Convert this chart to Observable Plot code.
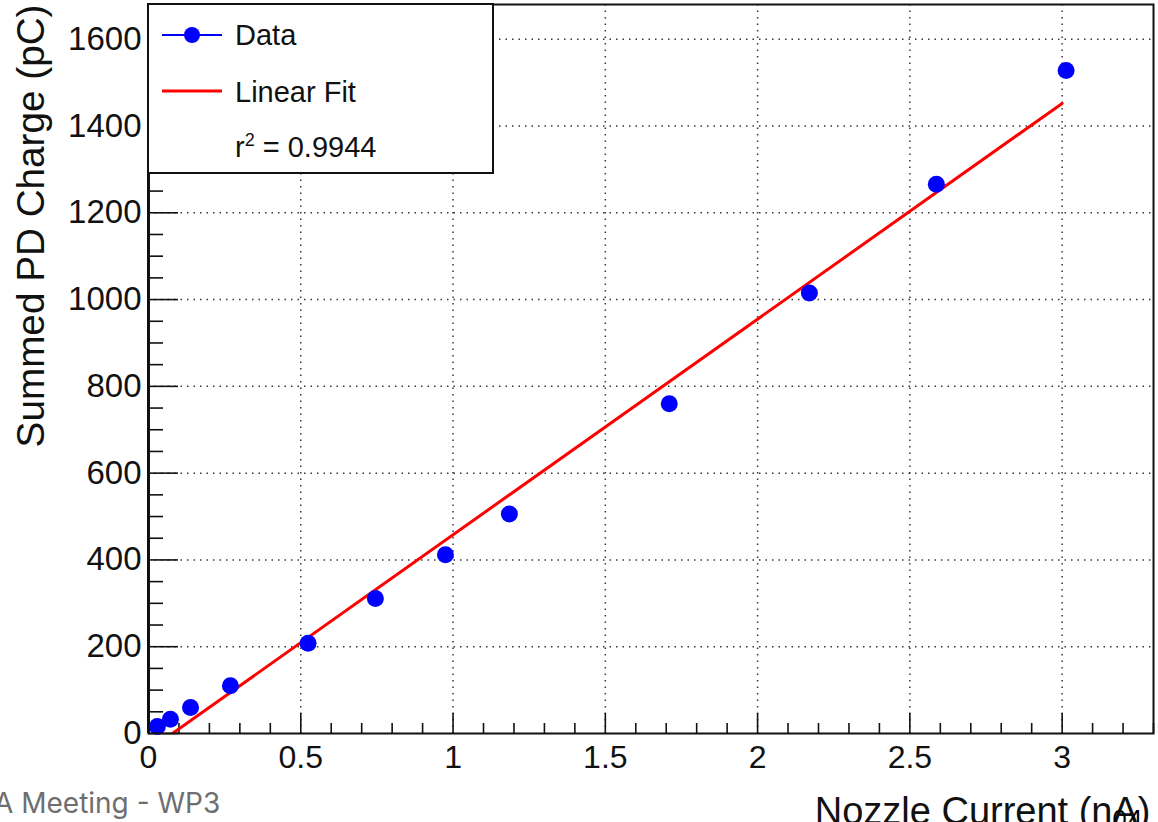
<!DOCTYPE html>
<html>
<head>
<meta charset="utf-8">
<script src="https://cdn.jsdelivr.net/npm/d3@7"></script>
<script src="https://cdn.jsdelivr.net/npm/@observablehq/plot@0.6"></script>
<style>
  html, body { margin: 0; padding: 0; background: #fff; }
  #wrap { position: relative; width: 1158px; height: 822px; overflow: hidden; background: #fff; }
  #wrap > svg.chart { position: absolute; left: 0; top: 0; }
  #wrap > svg.legend { position: absolute; left: 147px; top: 3px; }
  .footer { position: absolute; left: -6px; top: 786px; font-family: Inter, "Open Sans", sans-serif;
            font-size: 28px; color: #6e6e6e; white-space: nowrap; }
  .page { position: absolute; left: 1112px; top: 805px; font-family: Inter, sans-serif;
          font-size: 24px; color: #000; white-space: nowrap; }
</style>
</head>
<body>
<div id="wrap"></div>
<script>
// Measured nozzle current (nA) and summed PD charge (pC)
const current = [0.029, 0.072, 0.138, 0.269, 0.524, 0.745, 0.975, 1.185, 1.71, 2.17, 2.587, 3.013];
const charge  = [16, 33, 60, 110, 208, 311, 412, 506, 760, 1015, 1266, 1528];

// Linear fit parameters
const fitSlope = 497;
const fitIntercept = -39;
const fitRange = [0, 3];
const rSquared = "0.9944";

// Axis ticks
const xTickValues = [0, 0.5, 1, 1.5, 2, 2.5, 3];
const xTickLabels = ["0", "0.5", "1", "1.5", "2", "2.5", "3"];
const yTickValues = [0, 200, 400, 600, 800, 1000, 1200, 1400, 1600];
const yTickLabels = ["0", "200", "400", "600", "800", "1000", "1200", "1400", "1600"];

const xTitle = "Nozzle Current (nA)";
const yTitle = "Summed PD Charge (pC)";

const W = 1158, H = 822;
const mL = 148, mR = 5, mT = 4, mB = 89;
const innerW = W - mL - mR, innerH = H - mT - mB;

const points = current.map((x, i) => ({x, y: charge[i]}));
const fitLine = fitRange.map(x => ({x, y: fitSlope * x + fitIntercept}));

// minor ticks: every 0.1 nA on x, every 50 pC on y
const xMinor = d3.range(1, 34).map(i => i / 10).filter(v => Math.abs(v * 2 - Math.round(v * 2)) > 1e-6);
const yMinor = d3.range(50, 1680, 50).filter(v => v % 200 !== 0);

const font = "'Liberation Sans', Arial, Helvetica, sans-serif";
const gridStyle = {stroke: "#222", strokeOpacity: 0.9, strokeWidth: 1.5, strokeDasharray: "1.5,5"};
const tickStyle = {stroke: "#111", strokeWidth: 1.6};

const chart = Plot.plot({
  width: W,
  height: H,
  marginLeft: mL,
  marginRight: mR,
  marginTop: mT,
  marginBottom: mB,
  className: "chart",
  style: {fontFamily: font, color: "#111", background: "#fff"},
  x: {domain: [0, 3.3], label: null},
  y: {domain: [0, 1680], label: null},
  marks: [
    Plot.gridX(xTickValues.slice(1), gridStyle),
    Plot.gridY(yTickValues.slice(1), gridStyle),
    Plot.tickX(xMinor, {x: d => d, insetTop: innerH - 10, ...tickStyle}),
    Plot.tickX(xTickValues, {x: d => d, insetTop: innerH - 20, ...tickStyle}),
    Plot.tickY(yMinor, {y: d => d, insetRight: innerW - 15, ...tickStyle}),
    Plot.tickY(yTickValues, {y: d => d, insetRight: innerW - 30, ...tickStyle}),
    Plot.axisX(xTickValues, {
      tickSize: 0, tickPadding: 12, fontSize: 32, label: null,
      tickFormat: d => xTickLabels[xTickValues.indexOf(d)]
    }),
    Plot.axisY(yTickValues, {
      tickSize: 0, tickPadding: 7, fontSize: 33, label: null,
      tickFormat: d => yTickLabels[yTickValues.indexOf(d)]
    }),
    Plot.line(fitLine, {x: "x", y: "y", stroke: "#ff0000", strokeWidth: 3, clip: true}),
    Plot.dot(points, {x: "x", y: "y", r: 8.5, fill: "#0000ff", stroke: "none"}),
    Plot.frame({stroke: "#111", strokeWidth: 2}),
    Plot.ruleX([0], {stroke: "#111", strokeWidth: 3}),
    Plot.text([xTitle], {
      text: d => d, frameAnchor: "bottom-right", dx: -3, dy: 90,
      textAnchor: "end", lineAnchor: "bottom", fontSize: 38, fill: "#111"
    }),
    Plot.text([yTitle], {
      text: d => d, frameAnchor: "top-left", rotate: -90, dx: -105, dy: 0,
      textAnchor: "end", lineAnchor: "bottom", fontSize: 38.7, fill: "#111"
    })
  ]
});

const wrap = document.getElementById("wrap");
wrap.appendChild(chart);

// Legend box in the top-left corner of the frame
const ns = "http://www.w3.org/2000/svg";
const leg = document.createElementNS(ns, "svg");
leg.setAttribute("class", "legend");
leg.setAttribute("width", 350);
leg.setAttribute("height", 174);
leg.innerHTML = `
  <rect x="1" y="1" width="345" height="169" fill="#fff" stroke="#111" stroke-width="2"/>
  <line x1="15" x2="75" y1="32" y2="32" stroke="#0000ff" stroke-width="2"/>
  <circle cx="45" cy="32" r="8" fill="#0000ff"/>
  <line x1="15" x2="75" y1="88" y2="88" stroke="#ff0000" stroke-width="3"/>
  <g font-family="${font}" font-size="29" fill="#111">
    <text x="88" y="42">Data</text>
    <text x="88" y="99">Linear Fit</text>
    <text x="88" y="154">r<tspan dy="-11" font-size="18">2</tspan><tspan dy="11"> = ${rSquared}</tspan></text>
  </g>`;
wrap.appendChild(leg);

const footer = document.createElement("div");
footer.className = "footer";
footer.textContent = "A Meeting - WP3";
wrap.appendChild(footer);

const page = document.createElement("div");
page.className = "page";
page.textContent = "04";
wrap.appendChild(page);
</script>
</body>
</html>
